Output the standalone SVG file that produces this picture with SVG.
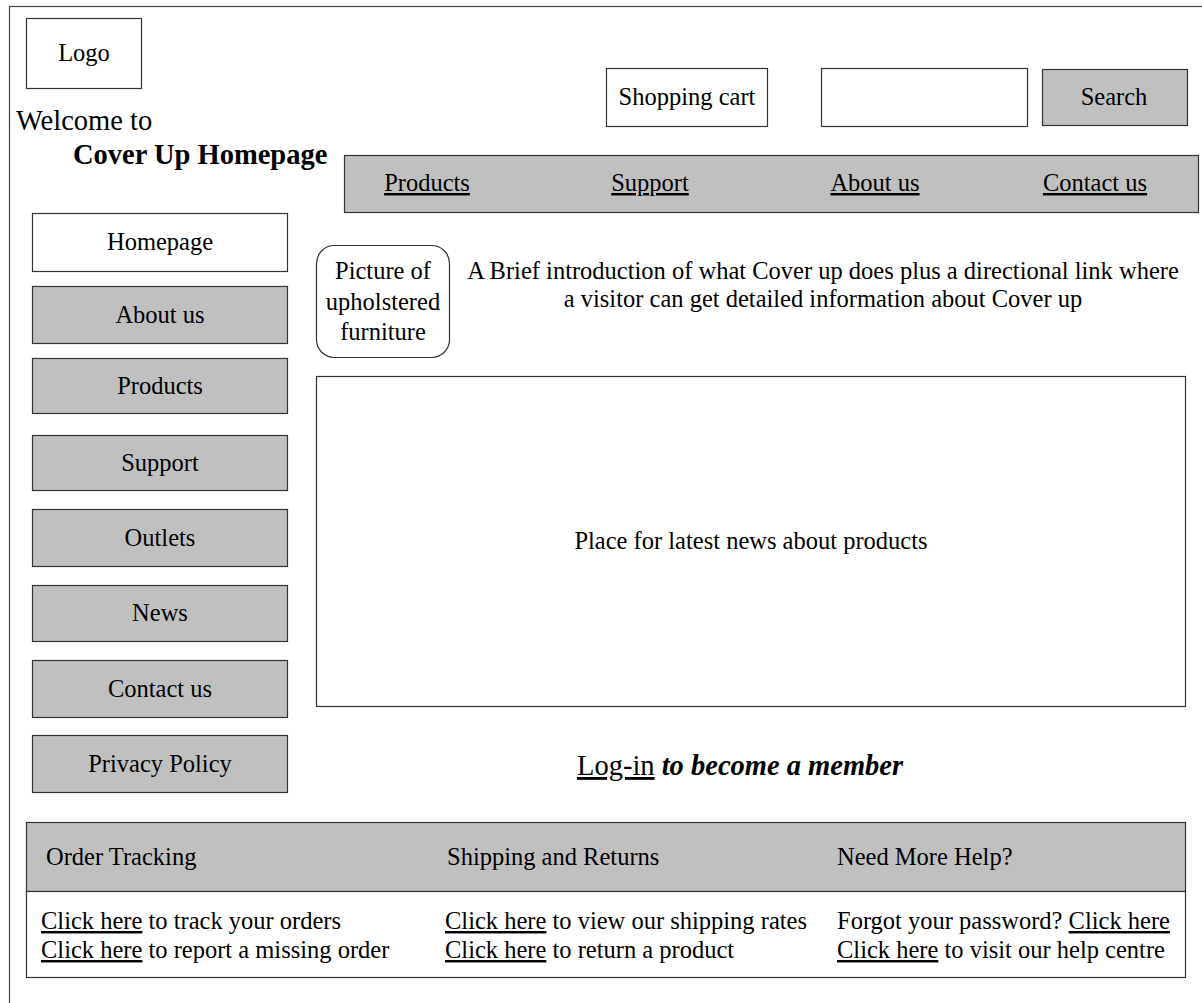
<svg xmlns="http://www.w3.org/2000/svg" width="1202" height="1003" viewBox="0 0 1202 1003">
  <style>
    text { font-family: "Liberation Serif", "Times New Roman", serif; font-size: 24.5px; fill: #000; }
    .big { font-size: 28.5px; }
    .c { text-anchor: middle; }
    .u { text-decoration: underline; }
    .box { fill: #fff; stroke: #333; stroke-width: 1.2; }
    .btn { fill: #c0c0c0; stroke: #333; stroke-width: 1.2; }
  </style>

  <!-- page frame -->
  <rect x="9.5" y="6.5" width="1300" height="1100" fill="#fff" stroke="#444" stroke-width="1.2"/>

  <!-- header -->
  <g id="logo">
    <rect class="box" x="26.5" y="18.5" width="115" height="70"/>
    <text class="c" x="84" y="61">Logo</text>
  </g>
  <g id="welcome">
    <text class="big" x="16" y="130">Welcome to</text>
    <text class="big" x="73" y="164" font-weight="bold">Cover Up Homepage</text>
  </g>
  <g id="shopping-cart">
    <rect class="box" x="606.5" y="68.5" width="161" height="58"/>
    <text class="c" x="687" y="105">Shopping cart</text>
  </g>
  <g id="search-field">
    <rect class="box" x="821.5" y="68.5" width="206" height="58"/>
  </g>
  <g id="search-button">
    <rect class="btn" x="1042.5" y="69.5" width="145" height="56"/>
    <text class="c" x="1114" y="105">Search</text>
  </g>

  <!-- top navigation -->
  <g id="top-nav">
    <rect class="btn" x="344.5" y="155.5" width="854" height="57"/>
    <text class="c u" x="427" y="191">Products</text>
    <text class="c u" x="650" y="191">Support</text>
    <text class="c u" x="875" y="191">About us</text>
    <text class="c u" x="1095" y="191">Contact us</text>
  </g>

  <!-- side menu -->
  <g id="menu-homepage">
    <rect class="box" x="32.5" y="213.5" width="255" height="58"/>
    <text class="c" x="160" y="250">Homepage</text>
  </g>
  <g id="menu-about">
    <rect class="btn" x="32.5" y="286.5" width="255" height="57"/>
    <text class="c" x="160" y="323">About us</text>
  </g>
  <g id="menu-products">
    <rect class="btn" x="32.5" y="358.5" width="255" height="55"/>
    <text class="c" x="160" y="394">Products</text>
  </g>
  <g id="menu-support">
    <rect class="btn" x="32.5" y="435.5" width="255" height="55"/>
    <text class="c" x="160" y="471">Support</text>
  </g>
  <g id="menu-outlets">
    <rect class="btn" x="32.5" y="509.5" width="255" height="57"/>
    <text class="c" x="160" y="546">Outlets</text>
  </g>
  <g id="menu-news">
    <rect class="btn" x="32.5" y="585.5" width="255" height="56"/>
    <text class="c" x="160" y="621">News</text>
  </g>
  <g id="menu-contact">
    <rect class="btn" x="32.5" y="660.5" width="255" height="57"/>
    <text class="c" x="160" y="697">Contact us</text>
  </g>
  <g id="menu-privacy">
    <rect class="btn" x="32.5" y="735.5" width="255" height="57"/>
    <text class="c" x="160" y="772">Privacy Policy</text>
  </g>

  <!-- intro -->
  <g id="picture">
    <rect class="box" x="316.5" y="245.5" width="133" height="112" rx="18"/>
    <text class="c" x="383" y="279">Picture of</text>
    <text class="c" x="383" y="310">upholstered</text>
    <text class="c" x="383" y="340">furniture</text>
  </g>
  <g id="intro">
    <text class="c" x="823" y="279">A Brief introduction of what Cover up does plus a directional link where</text>
    <text class="c" x="823" y="307">a visitor can get detailed information about Cover up</text>
  </g>

  <!-- news -->
  <g id="news">
    <rect class="box" x="316.5" y="376.5" width="869" height="330"/>
    <text class="c" x="751" y="549">Place for latest news about products</text>
  </g>

  <!-- login -->
  <g id="login">
    <text class="big" x="577" y="775"><tspan class="u">Log-in</tspan> <tspan font-weight="bold" font-style="italic">to become a member</tspan></text>
  </g>

  <!-- footer -->
  <g id="footer">
    <rect class="btn" x="26.5" y="822.5" width="1159" height="69"/>
    <rect class="box" x="26.5" y="891.5" width="1159" height="86"/>
    <text x="46" y="865">Order Tracking</text>
    <text x="447" y="865">Shipping and Returns</text>
    <text x="837" y="865">Need More Help?</text>
    <text x="41" y="929"><tspan class="u">Click here</tspan> to track your orders</text>
    <text x="41" y="958"><tspan class="u">Click here</tspan> to report a missing order</text>
    <text x="445" y="929"><tspan class="u">Click here</tspan> to view our shipping rates</text>
    <text x="445" y="958"><tspan class="u">Click here</tspan> to return a product</text>
    <text x="837" y="929">Forgot your password? <tspan class="u">Click here</tspan></text>
    <text x="837" y="958"><tspan class="u">Click here</tspan> to visit our help centre</text>
  </g>

  <!-- no connectors in this layout -->
  <g id="connectors"/>
</svg>
